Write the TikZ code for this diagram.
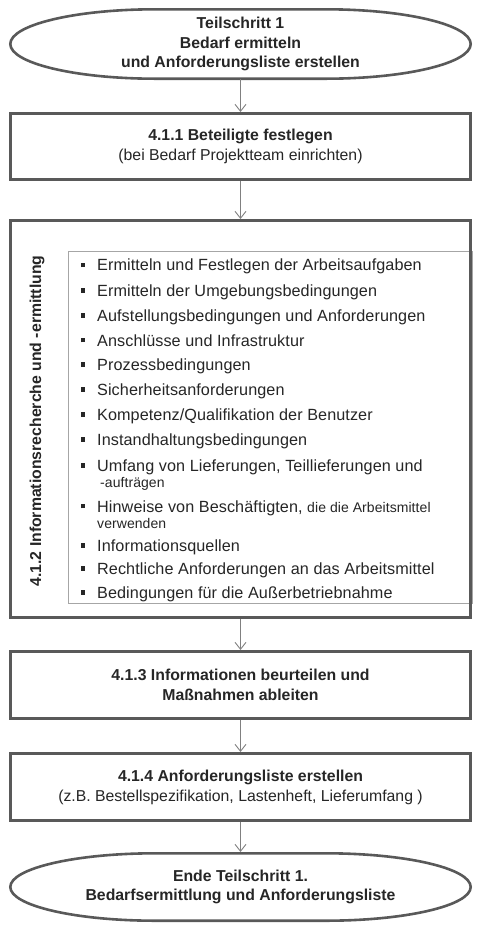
\documentclass[tikz,border=0pt]{standalone}
\usepackage{fontspec}
\setmainfont{Liberation Sans}
\newfontfamily\listfont[LetterSpace=0.5]{Liberation Sans}
\usetikzlibrary{arrows.meta}
\definecolor{boxc}{HTML}{595959}
\definecolor{txtc}{HTML}{262626}
\definecolor{arrc}{HTML}{808080}
\definecolor{lstc}{HTML}{A6A6A6}
\newcommand\sqbul{\makebox[16.7pt][l]{\raisebox{3.6pt}{\rule{4.5pt}{4.5pt}}}}
\newcommand\fsmain{\fontsize{15.8}{20}\selectfont}
\newcommand\fslist{\listfont\fontsize{16.2}{20}\selectfont}
\newcommand\fssmall{\listfont\fontsize{14}{17}\selectfont}
\tikzset{
  boxline/.style={draw=boxc, line width=2.6pt},
  procbox/.style={boxline, rectangle, minimum width=460.4pt, align=center, inner sep=0pt, text=txtc, font=\fsmain},
  termnode/.style={rectangle, minimum width=460.4pt, minimum height=69.4pt, inner sep=0pt, outer sep=0pt, align=center, text=txtc, font=\bfseries\fontsize{15.8}{19.5}\selectfont},
  arr/.style={draw=arrc, line width=0.9pt, -{Straight Barb[length=7pt,width=11pt,line width=0.9pt]}},
  listbox/.style={draw=lstc, line width=0.8pt, rectangle, inner sep=0pt, minimum width=404pt, minimum height=352pt},
  item/.style={anchor=base west, inner sep=0pt, text=txtc, font=\fslist},
  subitem/.style={anchor=base west, inner sep=0pt, text=txtc, font=\fssmall},
}
\begin{document}
\begin{tikzpicture}[x=1pt,y=1pt]
\useasboundingbox (0,0) rectangle (486,-930);
\fill[white] (0,0) rectangle (486,-930);

% start terminator
\node[termnode] (start) at (240.5,-44) {Teilschritt 1\\Bedarf ermitteln\\und Anforderungsliste erstellen};
\draw[boxline, shift={(start.center)}] (-85.2,34.7) -- (85.2,34.7)
  arc[start angle=90, end angle=-90, x radius=145, y radius=34.7]
  -- (-85.2,-34.7)
  arc[start angle=270, end angle=90, x radius=145, y radius=34.7] -- cycle;

% 4.1.1
\node[procbox, minimum height=66.4pt] (b1) at (240.5,-146.5)
  {\textbf{4.1.1 Beteiligte festlegen}\\(bei Bedarf Projektteam einrichten)};

% 4.1.2
\node[listbox] (lst) at (270,-427) {};
\node[procbox, minimum height=397.4pt] (b2) at (240.5,-419) {};
\node[rotate=90, inner sep=0pt, text=txtc, font=\bfseries\fontsize{15.8}{19}\selectfont] (lbl) at (37,-421)
  {4.1.2 Informationsrecherche und -ermittlung};

\node[item] (i1) at (80.3,-270.7) {\sqbul Ermitteln und Festlegen der Arbeitsaufgaben};
\node[item] (i2) at (80.3,-296.5) {\sqbul Ermitteln der Umgebungsbedingungen};
\node[item] (i3) at (80.3,-321.5) {\sqbul Aufstellungsbedingungen und Anforderungen};
\node[item] (i4) at (80.3,-346) {\sqbul Anschlüsse und Infrastruktur};
\node[item] (i5) at (80.3,-370.5) {\sqbul Prozessbedingungen};
\node[item] (i6) at (80.3,-395.5) {\sqbul Sicherheitsanforderungen};
\node[item] (i7) at (80.3,-420.5) {\sqbul Kompetenz/Qualifikation der Benutzer};
\node[item] (i8) at (80.3,-445.5) {\sqbul Instandhaltungsbedingungen};
\node[item] (i9) at (80.3,-471.5) {\sqbul Umfang von Lieferungen, Teillieferungen und};
\node[subitem] (i9b) at (100,-487.5) {-aufträgen};
\node[item] (i10) at (80.3,-512) {\sqbul Hinweise von Beschäftigten, {\fssmall die die Arbeitsmittel}};
\node[subitem] (i10b) at (97,-528.5) {verwenden};
\node[item] (i11) at (80.3,-551.5) {\sqbul Informationsquellen};
\node[item] (i12) at (80.3,-574.5) {\sqbul Rechtliche Anforderungen an das Arbeitsmittel};
\node[item] (i13) at (80.3,-598.5) {\sqbul Bedingungen für die Außerbetriebnahme};

% 4.1.3
\node[procbox, minimum height=67.4pt, font=\bfseries\fontsize{15.8}{20}\selectfont] (b3) at (240.5,-685)
  {4.1.3 Informationen beurteilen und\\Maßnahmen ableiten};

% 4.1.4
\node[procbox, minimum height=67.4pt] (b4) at (240.5,-787)
  {\textbf{4.1.4 Anforderungsliste erstellen}\\(z.B. Bestellspezifikation, Lastenheft, Lieferumfang )};

% end terminator
\node[termnode, minimum height=67.4pt] (end) at (240.5,-887) {Ende Teilschritt 1.\\Bedarfsermittlung und Anforderungsliste};
\draw[boxline, shift={(end.center)}] (-85.2,33.7) -- (85.2,33.7)
  arc[start angle=90, end angle=-90, x radius=145, y radius=33.7]
  -- (-85.2,-33.7)
  arc[start angle=270, end angle=90, x radius=145, y radius=33.7] -- cycle;

% connectors
\draw[arr] (start.south) -- (b1.north);
\draw[arr] (b1.south) -- (b2.north);
\draw[arr] (b2.south) -- (b3.north);
\draw[arr] (b3.south) -- (b4.north);
\draw[arr] (b4.south) -- ([yshift=1.3pt]end.north);
\end{tikzpicture}
\end{document}
